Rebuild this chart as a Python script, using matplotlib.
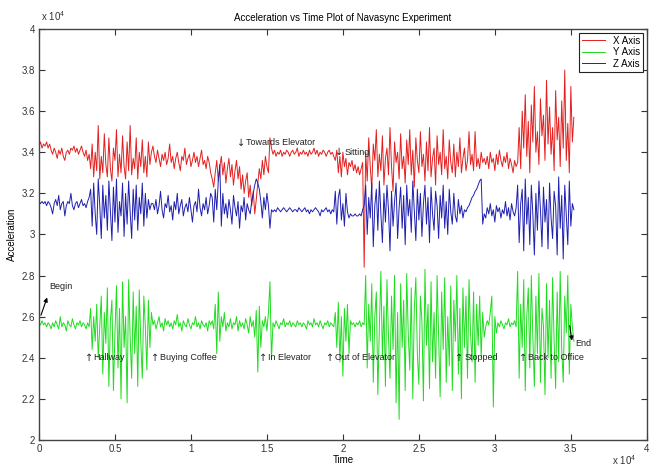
import numpy as np
import matplotlib
matplotlib.use("Agg")
import matplotlib.pyplot as plt
from matplotlib.ticker import FuncFormatter, MultipleLocator

plt.rcParams['font.family'] = ['Liberation Sans', 'DejaVu Sans']
plt.rcParams['mathtext.default'] = 'regular'

# one sample every 100 time units, values in units of 1e4
step = 100

x_axis = [
    # 0 - 0.33
    3.43, 3.45, 3.42, 3.44, 3.43, 3.45, 3.42, 3.44, 3.41, 3.39,
    3.42, 3.40, 3.37, 3.41, 3.39, 3.42, 3.38, 3.36, 3.40, 3.41,
    3.39, 3.42, 3.41, 3.43, 3.40, 3.42, 3.39, 3.41, 3.43, 3.40,
    3.38, 3.41, 3.36, 3.39,
    # hallway 0.34 - 0.74
    3.32, 3.44, 3.28, 3.40, 3.31, 3.53, 3.27, 3.38, 3.30, 3.49,
    3.34, 3.28, 3.47, 3.32, 3.26, 3.42, 3.36, 3.51, 3.28, 3.39,
    3.30, 3.48, 3.33, 3.27, 3.45, 3.31, 3.53, 3.29, 3.37, 3.32,
    3.47, 3.27, 3.40, 3.33, 3.46, 3.30, 3.38, 3.28, 3.45, 3.34,
    3.40,
    # 0.75 - 1.13
    3.43, 3.38, 3.35, 3.41, 3.37, 3.33, 3.39, 3.36, 3.40, 3.34,
    3.37, 3.44, 3.35, 3.38, 3.32, 3.37, 3.40, 3.35, 3.31, 3.38,
    3.36, 3.42, 3.34, 3.37, 3.39, 3.33, 3.36, 3.40, 3.35, 3.38,
    3.33, 3.37, 3.41, 3.34, 3.36, 3.32, 3.38, 3.35, 3.30,
    # 1.14 - 1.51
    3.27, 3.23, 3.30, 3.36, 3.26, 3.33, 3.38, 3.29, 3.35, 3.25,
    3.32, 3.37, 3.28, 3.34, 3.24, 3.31, 3.36, 3.27, 3.33, 3.22,
    3.29, 3.20, 3.26, 3.30, 3.18, 3.24, 3.14, 3.21, 3.10, 3.17,
    3.25, 3.32, 3.27, 3.36, 3.29, 3.38, 3.33, 3.30,
    3.47, 3.42,
    # elevator 1.54 - 1.94
    3.39, 3.41, 3.38, 3.40, 3.39, 3.41, 3.38, 3.40, 3.39, 3.41,
    3.40, 3.38, 3.40, 3.41, 3.39, 3.40, 3.42, 3.38, 3.40, 3.39,
    3.41, 3.39, 3.40, 3.38, 3.41, 3.39, 3.40, 3.42, 3.39, 3.41,
    3.38, 3.40, 3.39, 3.41, 3.40, 3.38, 3.40, 3.41, 3.39, 3.40,
    3.38,
    # 1.95 - 2.13
    3.36, 3.41, 3.30, 3.38, 3.28, 3.40, 3.33, 3.37, 3.29, 3.35,
    3.33, 3.36, 3.31, 3.34, 3.30, 3.33, 3.29, 3.32, 3.35,
    2.84,
    # 2.15 - 2.93
    3.40, 3.26, 3.47, 3.33, 3.22, 3.44, 3.36, 3.51, 3.28, 3.39,
    3.31, 3.48, 3.24, 3.37, 3.42, 3.29, 3.52, 3.33, 3.21, 3.45,
    3.35, 3.40, 3.27, 3.49, 3.32, 3.38, 3.25, 3.46, 3.34, 3.51,
    3.29, 3.41, 3.23, 3.47, 3.36, 3.30, 3.50, 3.33, 3.39, 3.26,
    3.45, 3.31, 3.52, 3.28, 3.37, 3.42, 3.24, 3.48, 3.34, 3.40,
    3.29, 3.51, 3.32, 3.38, 3.27, 3.46, 3.35, 3.30, 3.44, 3.28,
    3.40, 3.33, 3.47, 3.30, 3.37, 3.42, 3.31, 3.36, 3.50, 3.34,
    3.39, 3.31, 3.50, 3.33, 3.37, 3.32, 3.40, 3.35, 3.37,
    # 2.94 - 3.14
    3.34, 3.38, 3.32, 3.40, 3.35, 3.37, 3.31, 3.39, 3.34, 3.41,
    3.36, 3.33, 3.38, 3.35, 3.40, 3.32, 3.37, 3.34, 3.30, 3.36,
    3.33,
    # back to office 3.15 - 3.51
    3.35, 3.52, 3.32, 3.60, 3.42, 3.68, 3.38, 3.55, 3.30, 3.63,
    3.45, 3.72, 3.40, 3.50, 3.34, 3.66, 3.48, 3.58, 3.36, 3.75,
    3.44, 3.62, 3.39, 3.52, 3.31, 3.70, 3.46, 3.57, 3.33, 3.65,
    3.42, 3.80, 3.36, 3.54, 3.30, 3.72, 3.45,
    3.57,
]

y_axis = [
    2.57, 2.56, 2.58, 2.56, 2.57, 2.55, 2.57, 2.56, 2.54, 2.57,
    2.55, 2.58, 2.56, 2.54, 2.60, 2.55, 2.57, 2.56, 2.53, 2.58,
    2.56, 2.55, 2.59, 2.56, 2.54, 2.57, 2.56, 2.58, 2.55, 2.57,
    2.56, 2.54, 2.57, 2.55,
    2.64, 2.44, 2.60, 2.48, 2.66, 2.40, 2.55, 2.70, 2.32, 2.62,
    2.47, 2.74, 2.26, 2.58, 2.68, 2.24, 2.52, 2.75, 2.35, 2.64,
    2.20, 2.77, 2.45, 2.60, 2.18, 2.78, 2.50, 2.30, 2.72, 2.42,
    2.65, 2.26, 2.73, 2.48, 2.30, 2.70, 2.55, 2.34, 2.68, 2.45,
    2.62,
    2.56, 2.58, 2.54, 2.57, 2.60, 2.55, 2.57, 2.53, 2.59, 2.56,
    2.58, 2.55, 2.57, 2.54, 2.58, 2.56, 2.61, 2.55, 2.57, 2.53,
    2.58, 2.56, 2.55, 2.59, 2.56, 2.54, 2.57, 2.56, 2.60, 2.55,
    2.57, 2.54, 2.58, 2.56, 2.55, 2.57, 2.53, 2.58, 2.56,
    2.58, 2.54, 2.66, 2.42, 2.72, 2.48, 2.60, 2.55, 2.62, 2.53,
    2.57, 2.55, 2.59, 2.54, 2.57, 2.56, 2.60, 2.53, 2.58, 2.55,
    2.57, 2.54, 2.59, 2.56, 2.52, 2.60, 2.55, 2.58, 2.50, 2.63,
    2.33, 2.65, 2.45, 2.58, 2.55, 2.60, 2.53, 2.62,
    2.77, 2.39,
    2.57, 2.55, 2.58, 2.56, 2.54, 2.57, 2.56, 2.59, 2.55, 2.57,
    2.56, 2.58, 2.55, 2.57, 2.56, 2.55, 2.58, 2.56, 2.57, 2.55,
    2.57, 2.56, 2.54, 2.58, 2.56, 2.57, 2.55, 2.59, 2.56, 2.57,
    2.55, 2.58, 2.56, 2.54, 2.57, 2.56, 2.58, 2.55, 2.57, 2.56,
    2.55,
    2.62, 2.45, 2.67, 2.38, 2.60, 2.31, 2.64, 2.48, 2.66, 2.42,
    2.58, 2.56, 2.57, 2.55, 2.57, 2.56, 2.58, 2.55, 2.57,
    2.56,
    2.80, 2.35, 2.66, 2.48, 2.76, 2.28, 2.60, 2.72, 2.22, 2.55,
    2.82, 2.40, 2.65, 2.26, 2.78, 2.50, 2.30, 2.70, 2.44, 2.80,
    2.18, 2.62, 2.10, 2.76, 2.45, 2.68, 2.24, 2.81, 2.52, 2.34,
    2.74, 2.20, 2.64, 2.79, 2.42, 2.27, 2.70, 2.58, 2.19, 2.83,
    2.46, 2.66, 2.25, 2.77, 2.38, 2.62, 2.30, 2.80, 2.50, 2.21,
    2.72, 2.44, 2.79, 2.28, 2.60, 2.36, 2.75, 2.24, 2.68, 2.48,
    2.80, 2.32, 2.64, 2.20, 2.74, 2.45, 2.70, 2.30, 2.78, 2.52,
    2.38, 2.72, 2.28, 2.66, 2.46, 2.70, 2.40, 2.62, 2.50,
    2.55, 2.58, 2.56, 2.62, 2.70, 2.16, 2.60, 2.52, 2.57, 2.55,
    2.58, 2.56, 2.54, 2.57, 2.56, 2.59, 2.55, 2.57, 2.56, 2.58,
    2.55,
    2.82, 2.30, 2.66, 2.45, 2.78, 2.24, 2.60, 2.74, 2.35, 2.80,
    2.50, 2.26, 2.70, 2.42, 2.81, 2.28, 2.64, 2.55, 2.22, 2.76,
    2.40, 2.68, 2.30, 2.79, 2.48, 2.25, 2.72, 2.38, 2.82, 2.44,
    2.28, 2.70, 2.52, 2.80, 2.32, 2.66, 2.55,
    2.48,
]

z_axis = [
    3.16, 3.15, 3.16, 3.15, 3.16, 3.14, 3.16, 3.15, 3.13, 3.10,
    3.15, 3.17, 3.14, 3.19, 3.12, 3.15, 3.16, 3.09, 3.14, 3.16,
    3.15, 3.20, 3.14, 3.12, 3.15, 3.16, 3.13, 3.15, 3.17, 3.14,
    3.15, 3.13, 3.16, 3.18,
    3.22, 3.04, 3.25, 3.10, 3.00, 3.27, 3.14, 2.98, 3.24, 3.08,
    3.19, 3.02, 3.26, 3.12, 2.97, 3.23, 3.06, 3.27, 3.01, 3.16,
    3.09, 3.25, 2.99, 3.20, 3.05, 3.26, 3.11, 2.98, 3.22, 3.07,
    3.24, 3.02, 3.18, 3.10, 3.25, 3.04, 3.20, 3.08, 3.17, 3.12,
    3.15,
    3.15, 3.12, 3.17, 3.10, 3.14, 3.21, 3.12, 3.08, 3.15, 3.13,
    3.19, 3.11, 3.14, 3.07, 3.16, 3.12, 3.20, 3.10, 3.14, 3.17,
    3.09, 3.13, 3.15, 3.11, 3.18, 3.12, 3.06, 3.14, 3.16, 3.11,
    3.22, 3.13, 3.09, 3.15, 3.12, 3.18, 3.10, 3.14, 3.20,
    3.18, 3.06, 3.22, 3.12, 3.26, 3.34, 3.04, 3.20, 3.10, 3.15,
    3.08, 3.17, 3.12, 3.05, 3.19, 3.13, 3.09, 3.16, 3.03, 3.14,
    3.11, 3.18, 3.07, 3.15, 3.12, 3.10, 3.16, 3.20, 3.24, 3.27,
    3.25, 3.22, 3.16, 3.08, 3.18, 3.12, 3.20, 3.14,
    3.03, 3.12,
    3.11, 3.12, 3.11, 3.13, 3.12, 3.11, 3.12, 3.13, 3.12, 3.11,
    3.12, 3.13, 3.12, 3.11, 3.12, 3.12, 3.11, 3.13, 3.12, 3.11,
    3.12, 3.13, 3.11, 3.12, 3.10, 3.12, 3.11, 3.12, 3.13, 3.12,
    3.11, 3.09, 3.12, 3.11, 3.12, 3.13, 3.11, 3.12, 3.10, 3.12,
    3.11,
    3.21, 3.05, 3.18, 3.22, 3.07, 3.15, 3.04, 3.20, 3.11, 3.08,
    3.10, 3.09, 3.09, 3.10, 3.09, 3.09, 3.10, 3.09, 3.12,
    3.14,
    3.24, 3.00, 3.18, 3.08, 3.25, 2.94, 3.14, 3.22, 3.02, 3.26,
    3.10, 2.96, 3.20, 3.06, 3.24, 3.12, 2.92, 3.21, 3.04, 3.16,
    3.25, 2.98, 3.13, 3.23, 3.03, 3.19, 2.95, 3.24, 3.09, 3.17,
    3.01, 3.26, 3.11, 2.97, 3.22, 3.07, 3.20, 2.99, 3.15, 3.24,
    3.05, 3.18, 2.96, 3.23, 3.10, 3.02, 3.21, 3.14, 2.98, 3.19,
    3.08, 3.24, 3.03, 3.16, 3.00, 3.22, 3.11, 3.05, 3.20, 3.09,
    3.06, 3.17, 3.10, 3.14, 3.08, 3.12, 3.11, 3.13, 3.14, 3.16,
    3.18, 3.19, 3.21, 3.22, 3.24, 3.26, 3.27, 3.05, 3.10,
    3.08, 3.13, 3.10, 3.15, 3.09, 3.12, 3.06, 3.14, 3.11, 3.13,
    3.08, 3.12, 3.10, 3.16, 3.09, 3.13, 3.07, 3.15, 3.11, 3.09,
    3.13,
    3.24, 2.96, 3.15, 3.22, 2.92, 3.27, 3.05, 3.18, 2.95, 3.24,
    3.10, 2.90, 3.20, 3.02, 3.26, 3.12, 2.94, 3.23, 3.06, 3.17,
    2.93, 3.25, 3.08, 2.98, 3.21, 3.14, 2.90, 3.28, 3.03, 3.19,
    2.88, 3.24, 3.10, 2.95, 3.26, 3.04, 3.15,
    3.12,
]

# event labels: (text, time, level), time and level in 1e4 units
events_up = [("Hallway", 0.30, 2.40), ("Buying Coffee", 0.74, 2.40),
             ("In Elevator", 1.45, 2.40), ("Out of Elevator", 1.89, 2.40),
             ("Stopped", 2.74, 2.40), ("Back to Office", 3.16, 2.40)]
events_down = [("Towards Elevator", 1.30, 3.445), ("Sitting", 1.95, 3.40)]


def series_time(vals):
    return step * np.arange(len(vals))


fig = plt.figure(figsize=(6.55, 4.71), dpi=100)
ax = fig.add_axes([0.0595, 0.066, 0.928, 0.8726])

ax.plot(series_time(x_axis), np.array(x_axis) * 1e4, color='#e41f1f', lw=0.7, label='X Axis')
ax.plot(series_time(y_axis), np.array(y_axis) * 1e4, color='#1fdc1f', lw=0.7, label='Y Axis')
ax.plot(series_time(z_axis), np.array(z_axis) * 1e4, color='#1f1fb0', lw=0.7, label='Z Axis')

ax.set_xlim(0, 40000)
ax.set_ylim(20000, 40000)
ax.xaxis.set_major_locator(MultipleLocator(5000))
ax.yaxis.set_major_locator(MultipleLocator(2000))
fmt = FuncFormatter(lambda v, p: f"{v / 1e4:g}")
ax.xaxis.set_major_formatter(fmt)
ax.yaxis.set_major_formatter(fmt)
ax.tick_params(direction='in', length=4, width=0.8, top=True, right=True,
               labelsize=7, colors='#333333', pad=3)
for s in ax.spines.values():
    s.set_color('#444444')
    s.set_linewidth(1.0)

ax.set_title('Acceleration vs Time Plot of Navasync Experiment', fontsize=7, pad=6)
ax.set_xlabel('Time', fontsize=7, labelpad=1)
ax.set_ylabel('Acceleration', fontsize=7, labelpad=3)
fig.text(0.062, 0.955, 'x 10$^{4}$', fontsize=7, color='#333333')
fig.text(0.935, 0.012, 'x 10$^{4}$', fontsize=7, color='#333333')

for arrow, evs in (("\u2191", events_up), ("\u2193", events_down)):
    for txt, t, lv in evs:
        ax.text(t * 1e4, lv * 1e4, arrow, fontsize=7, va='center', ha='left',
                color='#222222', family='DejaVu Sans')
        ax.annotate(txt, (t * 1e4, lv * 1e4), xytext=(6.5, 0), textcoords='offset points',
                    fontsize=6.5, va='center', ha='left', color='#222222')

# Begin / End pointers
ax.annotate('', xy=(600, 27060), xytext=(70, 25940),
            arrowprops=dict(arrowstyle='-|>', color='k', lw=0.8, mutation_scale=6))
ax.text(650, 27450, 'Begin', fontsize=6.5, va='center', ha='left', color='#222222')
ax.annotate('', xy=(35100, 24700), xytext=(34900, 25700),
            arrowprops=dict(arrowstyle='-|>', color='k', lw=0.8, mutation_scale=6))
ax.text(35300, 24670, 'End', fontsize=6.5, va='center', ha='left', color='#222222')

leg = ax.legend(loc='upper right', fontsize=7, fancybox=False, edgecolor='#222222',
                handlelength=2.4, borderaxespad=0.4, labelspacing=0.15,
                borderpad=0.3, framealpha=1)
leg.get_frame().set_linewidth(0.8)

fig.savefig('out.png', dpi=100)
